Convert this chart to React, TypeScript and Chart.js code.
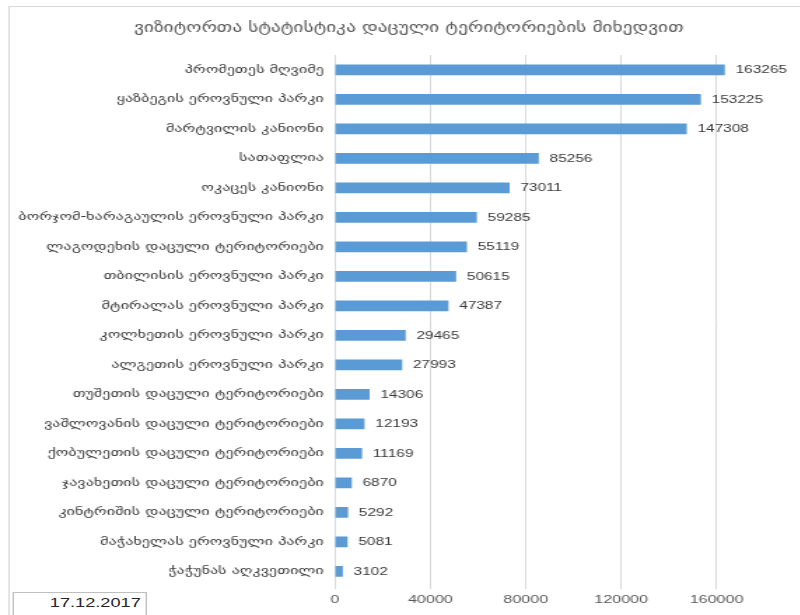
import React, { useEffect, useRef } from "react";
import { Chart, registerables } from "chart.js";

Chart.register(...registerables);

const chartTitle = "ვიზიტორთა სტატისტიკა დაცული ტერიტორიების მიხედვით";
const categories = [
  "პრომეთეს მღვიმე",
  "ყაზბეგის ეროვნული პარკი",
  "მარტვილის კანიონი",
  "სათაფლია",
  "ოკაცეს კანიონი",
  "ბორჯომ-ხარაგაულის ეროვნული პარკი",
  "ლაგოდეხის დაცული ტერიტორიები",
  "თბილისის ეროვნული პარკი",
  "მტირალას ეროვნული პარკი",
  "კოლხეთის ეროვნული პარკი",
  "ალგეთის ეროვნული პარკი",
  "თუშეთის დაცული ტერიტორიები",
  "ვაშლოვანის დაცული ტერიტორიები",
  "ქობულეთის დაცული ტერიტორიები",
  "ჯავახეთის დაცული ტერიტორიები",
  "კინტრიშის დაცული ტერიტორიები",
  "მაჭახელას ეროვნული პარკი",
  "ჭაჭუნას აღკვეთილი",
];
const visitors = [
  163265, 153225, 147308, 85256, 73011, 59285, 55119, 50615, 47387, 29465,
  27993, 14306, 12193, 11169, 6870, 5292, 5081, 3102,
];
const xMax = 200000;
const xStep = 40000;
const dateLabel = "17.12.2017";

const STRETCH = 1.4;
const CW = 584;
const CH = 615;

const valueLabels = {
  id: "valueLabels",
  afterDatasetsDraw(chart: any) {
    const ctx = chart.ctx;
    const meta = chart.getDatasetMeta(0);
    const data = chart.data.datasets[0].data;
    ctx.save();
    ctx.font = "11px 'Liberation Sans', Arial, sans-serif";
    ctx.fillStyle = "#3a3a3a";
    ctx.textAlign = "left";
    ctx.textBaseline = "middle";
    meta.data.forEach((bar: any, i: number) => {
      ctx.fillText(String(data[i]), bar.x + 8, bar.y + 0.5);
    });
    ctx.restore();
  },
};

export default function App() {
  const ref = useRef<HTMLCanvasElement>(null);
  useEffect(() => {
    if (!ref.current) return;
    const chart = new Chart(ref.current, {
      type: "bar",
      data: {
        labels: categories,
        datasets: [
          {
            data: visitors,
            backgroundColor: "#5B9BD5",
            barThickness: 10,
          },
        ],
      },
      options: {
        indexAxis: "y",
        animation: false,
        responsive: false,
        layout: { padding: { left: 0, right: 0, top: 0, bottom: 4 } },
        plugins: {
          legend: { display: false },
          tooltip: { enabled: false },
          title: {
            display: true,
            text: chartTitle,
            color: "#595959",
            font: { family: "'DejaVu Sans', sans-serif", size: 13.8, weight: "normal" },
            padding: { top: 20, bottom: 18.5 },
          },
        },
        scales: {
          x: {
            min: 0,
            max: xMax,
            ticks: {
              stepSize: xStep,
              autoSkip: false,
              maxRotation: 0,
              color: "#595959",
              padding: 4,
              font: { family: "'Liberation Sans', Arial, sans-serif", size: 11.5 },
              callback: (v: any) => (Number(v) >= xMax ? "" : String(v)),
            },
            grid: { color: "#d9d9d9", tickLength: 3, drawTicks: true },
            border: { display: false },
          },
          y: {
            grid: { display: false, drawTicks: false },
            border: { display: true, color: "#d9d9d9" },
            ticks: {
              autoSkip: false,
              color: "#3a3a3a",
              padding: 8,
              font: { family: "'DejaVu Sans', sans-serif", size: 11.5 },
            },
            afterFit: (scale: any) => {
              scale.width = 335 / STRETCH;
            },
          },
        },
      },
      plugins: [valueLabels],
    });
    return () => chart.destroy();
  }, []);

  return (
    <div
      style={{
        position: "absolute",
        left: 0,
        top: 0,
        width: 800,
        height: 615,
        overflow: "hidden",
        background: "#fff",
      }}
    >
      <div
        style={{
          position: "absolute",
          left: 0,
          top: 0,
          width: CW,
          height: CH,
          transform: `scaleX(${STRETCH})`,
          transformOrigin: "0 0",
        }}
      >
        <div
          style={{
            position: "absolute",
            left: 8 / STRETCH,
            top: 6,
            width: 700,
            height: 700,
            border: "1px solid #d9d9d9",
            boxSizing: "border-box",
          }}
        />
        <canvas
          ref={ref}
          width={CW}
          height={CH}
          style={{ position: "absolute", left: 0, top: 0, width: CW, height: CH }}
        />
        <div
          style={{
            position: "absolute",
            left: 12.5 / STRETCH,
            top: 592,
            width: 134 / STRETCH,
            height: 30,
            border: "1px solid #bfbfbf",
            boxSizing: "border-box",
            background: "#fff",
            fontFamily: "'Liberation Sans', Arial, sans-serif",
            fontSize: 13,
            color: "#262626",
            textAlign: "right",
            paddingRight: 3,
            lineHeight: "19px",
          }}
        >
          {dateLabel}
        </div>
      </div>
    </div>
  );
}
